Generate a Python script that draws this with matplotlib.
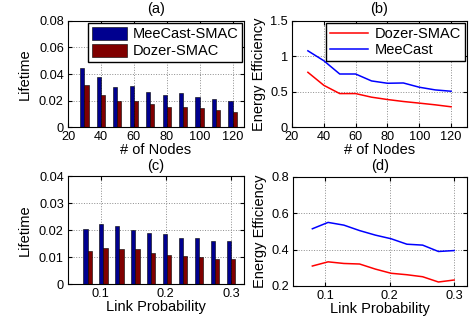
import numpy as np
import matplotlib
matplotlib.use("Agg")
import matplotlib.pyplot as plt

plt.rcParams['font.family'] = ['Liberation Sans', 'DejaVu Sans']

# data
nodes = [30, 40, 50, 60, 70, 80, 90, 100, 110, 120]
life_meecast = [0.0443, 0.0375, 0.0303, 0.0310, 0.0265, 0.0240, 0.0255, 0.0230, 0.0213, 0.0198]
life_dozer = [0.0318, 0.0240, 0.0198, 0.0193, 0.0173, 0.0153, 0.0150, 0.0140, 0.0125, 0.0115]
eff_dozer = [0.774, 0.590, 0.473, 0.473, 0.422, 0.389, 0.361, 0.338, 0.314, 0.286]
eff_meecast = [1.078, 0.938, 0.750, 0.750, 0.652, 0.619, 0.623, 0.563, 0.525, 0.506]

link_p = [0.08, 0.1044, 0.1289, 0.1533, 0.1778, 0.2022, 0.2267, 0.2511, 0.2756, 0.30]
lp_life_meecast = [0.0204, 0.0222, 0.0214, 0.0201, 0.0189, 0.0185, 0.0170, 0.0170, 0.0160, 0.0160]
lp_life_dozer = [0.0123, 0.0133, 0.0131, 0.0128, 0.0115, 0.0107, 0.0104, 0.0101, 0.0093, 0.0094]
lp_eff_meecast = [0.515, 0.550, 0.535, 0.505, 0.480, 0.460, 0.430, 0.425, 0.390, 0.395]
lp_eff_dozer = [0.310, 0.333, 0.324, 0.321, 0.293, 0.270, 0.262, 0.251, 0.222, 0.233]

navy = (0, 0, 0.5625)
maroon = (0.5, 0, 0)
TICK = 9.2
LAB = 10.5

fig = plt.figure(figsize=(4.73, 3.26), dpi=100)
ax_a = fig.add_axes([0.1438, 0.6104, 0.3721, 0.3252])
ax_b = fig.add_axes([0.6173, 0.6104, 0.3700, 0.3252])
ax_c = fig.add_axes([0.1438, 0.1288, 0.3721, 0.3313])
ax_d = fig.add_axes([0.6195, 0.1227, 0.3679, 0.3344])


def style(ax):
    ax.grid(True, linestyle=':', color='0.55', linewidth=0.7)
    ax.set_axisbelow(True)
    ax.tick_params(direction='in', top=True, right=True, length=3,
                   labelsize=TICK, pad=3)
    for s in ax.spines.values():
        s.set_linewidth(0.8)


def fmt(v):
    return '0' if v == 0 else ('%g' % v)


# (a)
w = 2.5
x = np.array(nodes)
ax_a.bar(x - w / 2, life_meecast, w, color=navy, edgecolor='black', linewidth=0.4, label='MeeCast-SMAC')
ax_a.bar(x + w / 2, life_dozer, w, color=maroon, edgecolor='black', linewidth=0.4, label='Dozer-SMAC')
ax_a.set_xlim(20, 127)
ax_a.set_ylim(0, 0.08)
ax_a.set_xticks([20, 40, 60, 80, 100, 120])
yt = [0, 0.02, 0.04, 0.06, 0.08]
ax_a.set_yticks(yt)
ax_a.set_yticklabels([fmt(v) for v in yt])
ax_a.set_xlabel('# of Nodes', fontsize=LAB, labelpad=0)
ax_a.set_ylabel('Lifetime', fontsize=LAB, labelpad=5)
ax_a.set_title('(a)', fontsize=LAB, pad=6)
ax_a.legend(loc='upper right', fontsize=LAB, fancybox=False, edgecolor='black',
            borderaxespad=0.15, handlelength=2.4, handleheight=1.0,
            labelspacing=0.15, borderpad=0.25, handletextpad=0.4, framealpha=1)
style(ax_a)

# (b)
ax_b.plot(nodes, eff_dozer, color='red', linewidth=1.1, label='Dozer-SMAC')
ax_b.plot(nodes, eff_meecast, color='blue', linewidth=1.1, label='MeeCast')
ax_b.set_xlim(20, 130)
ax_b.set_ylim(0, 1.5)
ax_b.set_xticks([20, 40, 60, 80, 100, 120])
yt = [0, 0.5, 1, 1.5]
ax_b.set_yticks(yt)
ax_b.set_yticklabels([fmt(v) for v in yt])
ax_b.set_xlabel('# of Nodes', fontsize=LAB, labelpad=0)
ax_b.set_ylabel('Energy Efficiency', fontsize=LAB, labelpad=3)
ax_b.set_title('(b)', fontsize=LAB, pad=6)
ax_b.legend(loc='upper right', fontsize=LAB, fancybox=False, edgecolor='black',
            borderaxespad=0.15, handlelength=2.6, labelspacing=0.15,
            borderpad=0.25, handletextpad=0.5, framealpha=1)
style(ax_b)

# (c)
wc = 0.0064
xp = np.array(link_p)
ax_c.bar(xp - wc / 2, lp_life_meecast, wc, color=navy, edgecolor='black', linewidth=0.4)
ax_c.bar(xp + wc / 2, lp_life_dozer, wc, color=maroon, edgecolor='black', linewidth=0.4)
ax_c.set_xlim(0.05, 0.32)
ax_c.set_ylim(0, 0.04)
ax_c.set_xticks([0.1, 0.2, 0.3])
yt = [0, 0.01, 0.02, 0.03, 0.04]
ax_c.set_yticks(yt)
ax_c.set_yticklabels([fmt(v) for v in yt])
ax_c.set_xlabel('Link Probability', fontsize=LAB, labelpad=0)
ax_c.set_ylabel('Lifetime', fontsize=LAB, labelpad=5)
ax_c.set_title('(c)', fontsize=LAB, pad=4)
style(ax_c)

# (d)
ax_d.plot(link_p, lp_eff_meecast, color='blue', linewidth=1.1)
ax_d.plot(link_p, lp_eff_dozer, color='red', linewidth=1.1)
ax_d.set_xlim(0.05, 0.32)
ax_d.set_ylim(0.2, 0.8)
ax_d.set_xticks([0.1, 0.2, 0.3])
ax_d.set_yticks([0.2, 0.4, 0.6, 0.8])
ax_d.set_xlabel('Link Probability', fontsize=LAB, labelpad=0)
ax_d.set_ylabel('Energy Efficiency', fontsize=LAB, labelpad=3)
ax_d.set_title('(d)', fontsize=LAB, pad=5)
style(ax_d)

fig.savefig('out.png', dpi=100)
